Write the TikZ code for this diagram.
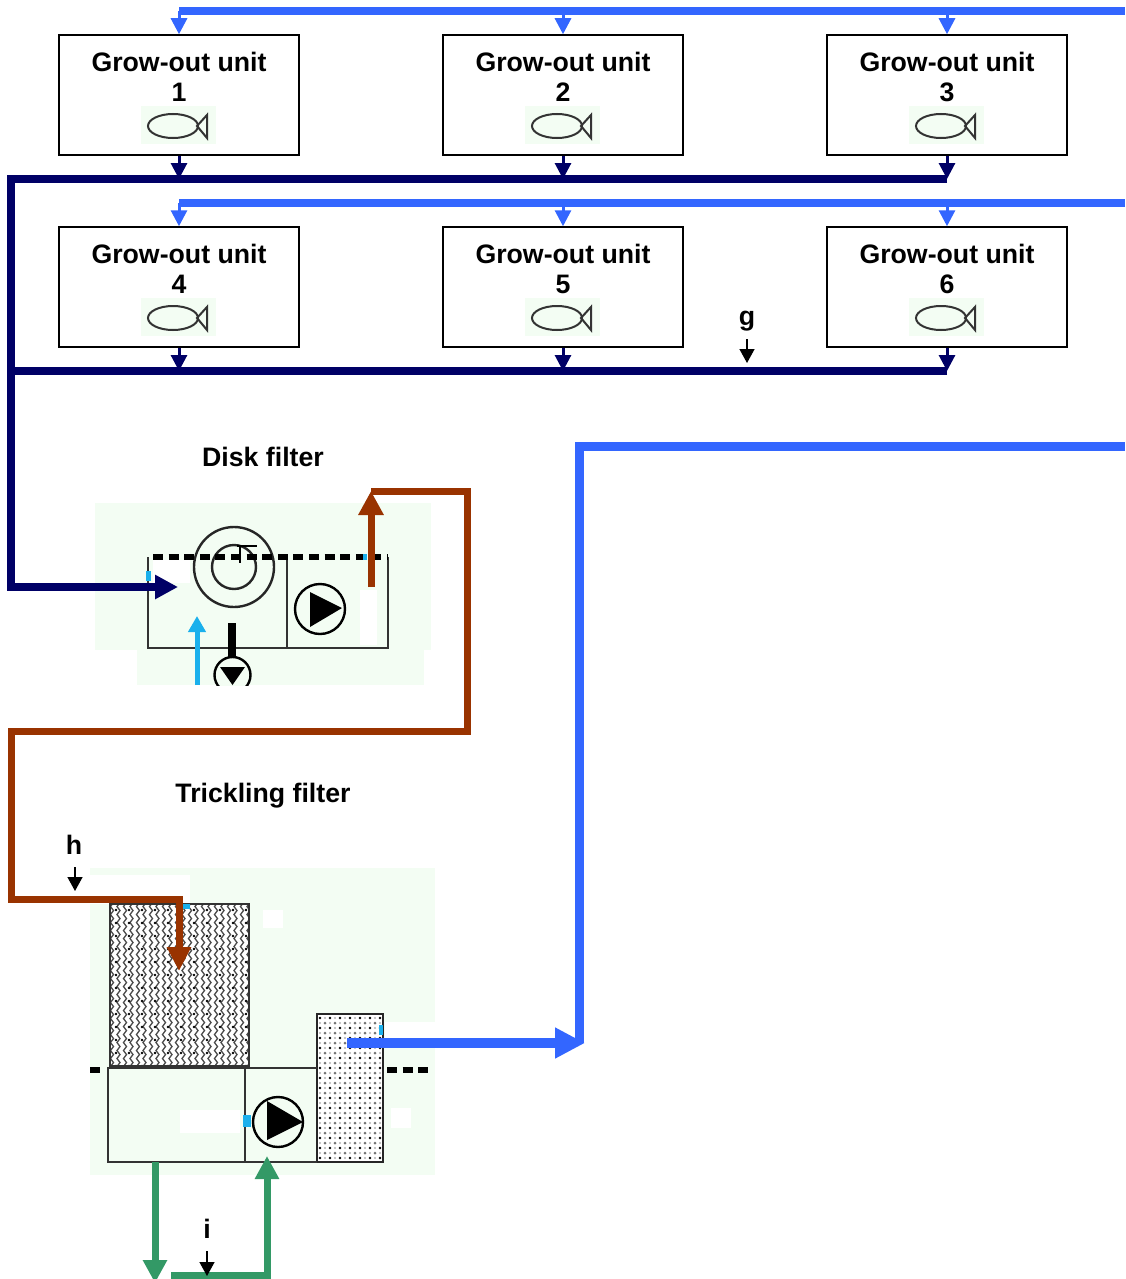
\documentclass[tikz,border=0pt]{standalone}
\usepackage{fontspec}
\setmainfont{Liberation Sans}
\usetikzlibrary{positioning,arrows.meta,patterns,decorations.pathmorphing}
\definecolor{feedblue}{HTML}{3366FF}
\definecolor{drainnavy}{HTML}{000066}
\definecolor{sludgebrown}{HTML}{993300}
\definecolor{biogreen}{HTML}{339966}
\definecolor{makeupcyan}{HTML}{1AB0EC}
\definecolor{imgbg}{HTML}{F3FDF3}
\tikzset{
  unitbox/.style={draw=black, line width=1.5pt, fill=white, minimum width=240pt, minimum height=120pt, inner sep=0pt},
  labeltext/.style={font=\fontsize{26.7}{30}\selectfont\bfseries, align=center, inner sep=0pt},
  feedmain/.style={draw=feedblue, line width=8pt},
  feedtap/.style={draw=feedblue, line width=3pt, -{Triangle[length=16pt,width=16pt]}},
  drainmain/.style={draw=drainnavy, line width=8pt},
  draintap/.style={draw=drainnavy, line width=3pt, -{Triangle[length=16pt,width=16pt]}},
  sludge/.style={draw=sludgebrown, line width=7pt},
  bio/.style={draw=biogreen, line width=7pt},
  probe/.style={draw=black, line width=1.4pt, -{Triangle[length=14pt,width=15pt]}},
  tankline/.style={draw=black!80, line width=2.5pt},
  levelline/.style={draw=black, line width=6pt, dash pattern=on 10pt off 5.6pt},
  pumpring/.style={draw=black, line width=2.4pt, fill=imgbg}
}
\begin{document}
\begin{tikzpicture}[x=1pt, y=-1pt]
\useasboundingbox (0,0) rectangle (1125,1279);
% grow-out units
\foreach \i/\cx/\cy in {1/179/95, 2/563/95, 3/947/95, 4/179/287, 5/563/287, 6/947/287} {
  \node[unitbox] (unit\i) at (\cx,\cy) {};
  \node[labeltext, below=17.5pt of unit\i.north] (unitname\i) {Grow-out unit\\\i};
  \fill[imgbg] (\cx-38,\cy+11) rectangle (\cx+37,\cy+49);
  \draw[black!80, line width=2pt] (\cx-6,\cy+31) ellipse (25 and 12);
  \draw[black!80, line width=2pt] (\cx+18,\cy+31) -- (\cx+28,\cy+20) -- (\cx+28,\cy+43) -- cycle;
}
\coordinate (feedtopend) at (1125,11);
\coordinate (feedtop1) at (179,11);
\coordinate (feedtop2) at (563,11);
\coordinate (feedtop3) at (947,11);
\coordinate (feedmidend) at (1125,203);
\coordinate (feedmid4) at (179,203);
\coordinate (feedmid5) at (563,203);
\coordinate (feedmid6) at (947,203);
\coordinate (drainup1) at (179,179);
\coordinate (drainup2) at (563,179);
\coordinate (drainup3) at (947,179);
\coordinate (drainlo4) at (179,371);
\coordinate (drainlo5) at (563,371);
\coordinate (drainlo6) at (947,371);
\coordinate (drainup0) at (11,179);
\coordinate (drainlo0) at (11,371);
\coordinate (drainturn) at (11,587);
\coordinate (drainin) at (178,587);
% feed and drain lines
\draw[feedmain] (feedtopend) -- (feedtop1);
\draw[feedmain] (feedmidend) -- (feedmid4);
\foreach \i/\j in {top1/1, top2/2, top3/3, mid4/4, mid5/5, mid6/6}
  \draw[feedtap] (feed\i) -- (unit\j.north);
\draw[drainmain] (drainlo6) -- (drainlo0);
\foreach \i/\j in {1/up1, 2/up2, 3/up3, 4/lo4, 5/lo5, 6/lo6}
  \draw[draintap] (unit\i.south) -- (drain\j);
% g
\node[labeltext] (gtext) at (747,321) {g};
\coordinate (gtip) at (747,363);
\coordinate (gtail) at (747,339);
\draw[probe] (gtail) -- (gtip);
% disk filter
\node[labeltext] (disktext) at (263,457) {Disk filter};
\fill[imgbg] (95,503) rectangle (431,650);
\fill[imgbg] (137,650) rectangle (424,685);
\fill[white] (153,560) rectangle (190,583);
\fill[white] (360,590) rectangle (377,645);
\begin{scope}
\clip (95,503) rectangle (431,685);
\draw[tankline] (148,557) -- (148,648) -- (388,648) -- (388,557);
\draw[tankline] (287,557) -- (287,648);
\draw[black!85, line width=2.4pt] (234,567) circle (40);
\draw[black!85, line width=2.4pt] (234,567) circle (22);
\draw[black, line width=1.8pt] (237,546) -- (257,546);
\draw[black, line width=1.8pt] (240,546) -- (240,563);
\draw[levelline] (153,557) -- (388,557);
\draw[pumpring] (320,609) circle (25);
\fill[black] (310,592) -- (342,608) -- (310,627) -- cycle;
\draw[black, line width=8pt] (232,623) -- (232,657);
\draw[pumpring] (232.5,675) circle (18);
\fill[black] (220,667) -- (245,667) -- (232.5,685) -- cycle;
\end{scope}
\fill[makeupcyan] (146,571) rectangle (151,581);
\fill[makeupcyan] (363,554) rectangle (367,560);
\coordinate (makeupstart) at (197,685);
\coordinate (makeupend) at (197,616);
\draw[makeupcyan, line width=5pt, -{Triangle[length=16pt,width=17pt]}] (makeupstart) -- (makeupend);
\draw[drainmain, -{Triangle[length=23pt,width=23pt]}] (drainup3) -- (drainup0) -- (drainturn) -- (drainin);
% sludge line
\coordinate (diskout) at (371,587);
\coordinate (disktop) at (371,491);
\coordinate (eastturn) at (467,491);
\coordinate (eastlow) at (467,731);
\coordinate (westlow) at (11,731);
\coordinate (westin) at (11,899);
\coordinate (tricklein) at (179,899);
\coordinate (tricklehead) at (179,971);
% trickling filter
\node[labeltext] (trickletext) at (263,796) {Trickling filter};
\fill[imgbg] (90,868) rectangle (435,1175);
\fill[white] (90,875) rectangle (190,904);
\fill[white] (263,910) rectangle (283,928);
\fill[white] (180,1110) rectangle (240,1133);
\fill[white] (391,1108) rectangle (411,1128);
\fill[white] (385,1022) rectangle (435,1040);
\fill[white] (110,904) rectangle (249,1066);
\begin{scope}
\clip (110,904) rectangle (249,1066);
\foreach \wx in {112,118.5,...,250}
  \draw[black!70, line width=1.3pt, decorate, decoration={snake, amplitude=1.5pt, segment length=8pt}] (\wx,900) -- (\wx,1070);
\foreach \wx in {116,129,...,250}
  \foreach \wy in {910,923,...,1066}
    \fill[black] (\wx,\wy) circle (1.3);
\end{scope}
\draw[draw=black!80, line width=2.5pt] (110,904) rectangle (249,1066);
\fill[white] (317,1014) rectangle (383,1162);
\begin{scope}
\clip (317,1014) rectangle (383,1162);
\foreach \dx in {320,330,...,384}
  \foreach \dy in {1018,1028,...,1162} {
    \fill[black] (\dx,\dy) circle (1.4);
    \fill[black!55] (\dx+5,\dy+5) circle (1.5);
    \fill[black!30] (\dx+5,\dy) circle (1.1);
    \fill[black!30] (\dx,\dy+5) circle (1.1);
  }
\end{scope}
\draw[draw=black!85, line width=2.5pt] (317,1014) rectangle (383,1162);
\draw[tankline] (108,1068) rectangle (245,1162);
\draw[tankline] (245,1068) -- (317,1068);
\draw[tankline] (245,1162) -- (317,1162);
\draw[black, line width=6pt] (90,1070) -- (100,1070);
\draw[levelline] (387,1070) -- (431,1070);
\draw[pumpring] (278,1122) circle (25);
\fill[black] (267,1101) -- (303,1122) -- (267,1140) -- cycle;
\fill[makeupcyan] (243,1115) rectangle (251,1127);
\fill[makeupcyan] (379,1025) rectangle (383,1035);
\fill[makeupcyan] (183,904) rectangle (190,909);
\draw[sludge, -{Triangle[length=24pt,width=24pt]}] (diskout) -- (disktop);
\draw[sludge, -{Triangle[length=24pt,width=23pt]}] (disktop) -- (eastturn) -- (eastlow) -- (westlow) -- (westin) -- (tricklein) -- (tricklehead);
% h and i
\node[labeltext] (htext) at (74,845) {h};
\coordinate (htail) at (75,867);
\coordinate (htip) at (75,891);
\draw[probe] (htail) -- (htip);
% clean water out
\coordinate (cleanstart) at (347,1043);
\coordinate (cleanhead) at (585,1043);
\coordinate (cleanturn) at (579,1043);
\coordinate (cleantop) at (579,446);
\coordinate (cleanend) at (1125,446);
\draw[feedmain, line width=9pt] (cleanturn) -- (cleantop) -- (cleanend);
\draw[draw=feedblue, line width=10pt, -{Triangle[length=30pt,width=29pt]}] (cleanstart) -- (cleanhead);
% green loop
\coordinate (sumpout) at (155,1162);
\coordinate (sumphead) at (155,1283);
\coordinate (loopstart) at (171,1275);
\coordinate (loopturn) at (267,1275);
\coordinate (pumpin) at (267,1156);
\draw[bio, -{Triangle[length=23pt,width=23pt]}] (sumpout) -- (sumphead);
\draw[bio, -{Triangle[length=23pt,width=23pt]}] (loopstart) -- (loopturn) -- (pumpin);
\node[labeltext] (itext) at (207,1229) {i};
\coordinate (itail) at (207,1251);
\coordinate (itip) at (207,1276);
\draw[probe] (itail) -- (itip);
\end{tikzpicture}
\end{document}
